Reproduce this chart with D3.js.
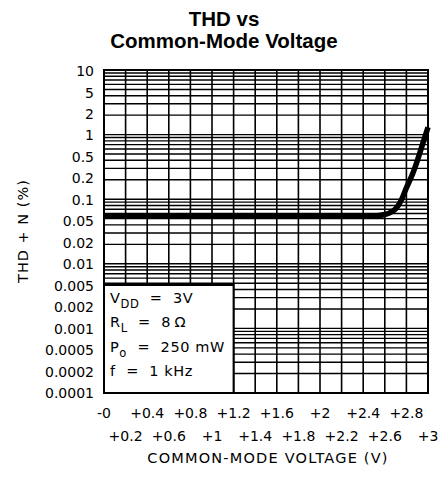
<!DOCTYPE html>
<html>
<head>
<meta charset="utf-8">
<script src="https://cdn.jsdelivr.net/npm/d3@7"></script>
<style>
  html, body { margin: 0; padding: 0; background: #fff; }
  svg { display: block; }
  .title { font-family: "Liberation Sans", Arial, sans-serif; font-weight: bold; font-size: 20.5px; fill: #000; }
  .tick-label { font-family: "DejaVu Sans", sans-serif; font-size: 14px; fill: #000; }
  .axis-title { font-family: "DejaVu Sans", sans-serif; font-size: 14.5px; fill: #000; }
  .legend-text { font-family: "DejaVu Sans", sans-serif; font-size: 14.5px; fill: #000; }
</style>
</head>
<body>
<script>
// THD+N vs common-mode voltage, VDD = 3 V, RL = 8 ohm, Po = 250 mW, f = 1 kHz
const voltage = [0, 0.5, 1.0, 1.5, 2.0, 2.4, 2.5, 2.6, 2.65, 2.7, 2.75, 2.8, 2.85, 2.9, 2.95, 3.0];
const thdN    = [0.055, 0.055, 0.055, 0.055, 0.055, 0.055, 0.055, 0.058, 0.062, 0.071, 0.095, 0.15, 0.23, 0.39, 0.71, 1.3];

const xTickValues = [0, 0.2, 0.4, 0.6, 0.8, 1, 1.2, 1.4, 1.6, 1.8, 2, 2.2, 2.4, 2.6, 2.8, 3];
const xTickLabels = ["-0", "+0.2", "+0.4", "+0.6", "+0.8", "+1", "+1.2", "+1.4", "+1.6", "+1.8", "+2", "+2.2", "+2.4", "+2.6", "+2.8", "+3"];
const yTickLabels = ["10", "5", "2", "1", "0.5", "0.2", "0.1", "0.05", "0.02", "0.01", "0.005", "0.002", "0.001", "0.0005", "0.0002", "0.0001"];
const yDomain = [0.0001, 10];

const legendLines = [
  ["V", "DD", "  =  3V"],
  ["R", "L", "  =  8\u2009\u03A9"],
  ["P", "o", "  =  250 mW"],
  ["f", "", "  =  1 kHz"]
];

const W = 440, H = 492;
const plot = { left: 104, right: 428, top: 70, bottom: 393 };

const svg = d3.select("body").append("svg").attr("width", W).attr("height", H);

const x = d3.scaleLinear().domain([0, 3]).range([plot.left, plot.right]);
const y = d3.scaleLog().domain(yDomain).range([plot.bottom, plot.top]);
const yLabelPos = d3.scalePoint().domain(yTickLabels).range([plot.top + 1, plot.bottom]);

// title
svg.append("text").attr("class", "title").attr("x", 224).attr("y", 26)
  .attr("text-anchor", "middle").text("THD vs");
svg.append("text").attr("class", "title").attr("x", 224).attr("y", 48)
  .attr("text-anchor", "middle").text("Common-Mode Voltage");

// log grid: decades plus 2..9 minor lines
const hLines = [];
for (let e = -4; e <= 0; e++) {
  for (let k = 1; k <= 9; k++) hLines.push(k * Math.pow(10, e));
}
hLines.push(10);

const grid = svg.append("g");
grid.selectAll("line.h").data(hLines).join("line")
  .attr("class", "h")
  .attr("x1", plot.left).attr("x2", plot.right)
  .attr("y1", d => y(d)).attr("y2", d => y(d))
  .attr("stroke", "#000").attr("stroke-width", 1.4);

grid.selectAll("line.v").data(xTickValues).join("line")
  .attr("class", "v")
  .attr("x1", d => x(d)).attr("x2", d => x(d))
  .attr("y1", plot.top).attr("y2", plot.bottom)
  .attr("stroke", "#000").attr("stroke-width", 1.6);

// frame
svg.append("rect")
  .attr("x", plot.left).attr("y", plot.top)
  .attr("width", plot.right - plot.left).attr("height", plot.bottom - plot.top)
  .attr("fill", "none").attr("stroke", "#000").attr("stroke-width", 2);

// condition box
const legendTop = 285;
const legendRight = x(1.2);
svg.append("rect")
  .attr("x", plot.left).attr("y", legendTop)
  .attr("width", legendRight - plot.left).attr("height", plot.bottom - legendTop)
  .attr("fill", "#fff").attr("stroke", "#000").attr("stroke-width", 2);

const lt = svg.append("g");
legendLines.forEach((ln, i) => {
  const t = lt.append("text").attr("class", "legend-text")
    .attr("x", plot.left + 6).attr("y", 303 + i * 24.4)
    .attr("letter-spacing", 0.6)
    .attr("xml:space", "preserve");
  t.append("tspan").text(ln[0]);
  if (ln[1]) t.append("tspan").attr("dy", 5).attr("font-size", 11.5).text(ln[1]);
  t.append("tspan").attr("dy", ln[1] ? -5 : 0).text(ln[2]);
});

// curve
const pts = voltage.map((v, i) => [v, thdN[i]]);
svg.append("path")
  .datum(pts)
  .attr("fill", "none")
  .attr("stroke", "#000")
  .attr("stroke-width", 5.5)
  .attr("stroke-linejoin", "round")
  .attr("d", d3.line().x(d => x(d[0])).y(d => y(d[1])).curve(d3.curveMonotoneX));

// y tick labels
svg.append("g").selectAll("text").data(yTickLabels).join("text")
  .attr("class", "tick-label")
  .attr("x", 94).attr("y", d => yLabelPos(d))
  .attr("dy", "0.36em")
  .attr("text-anchor", "end")
  .text(d => d);

// x tick labels, staggered on two rows
svg.append("g").selectAll("text").data(xTickValues).join("text")
  .attr("class", "tick-label")
  .attr("x", d => x(d))
  .attr("y", (d, i) => i % 2 === 0 ? 418 : 441)
  .attr("text-anchor", "middle")
  .text((d, i) => xTickLabels[i]);

// axis titles
svg.append("text").attr("class", "axis-title")
  .attr("x", 268).attr("y", 463)
  .attr("text-anchor", "middle")
  .attr("letter-spacing", 1.2)
  .text("COMMON-MODE VOLTAGE (V)");

svg.append("text").attr("class", "axis-title")
  .attr("transform", "translate(28,231) rotate(-90)")
  .attr("text-anchor", "middle")
  .attr("letter-spacing", 1)
  .text("THD + N (%)");
</script>
</body>
</html>
